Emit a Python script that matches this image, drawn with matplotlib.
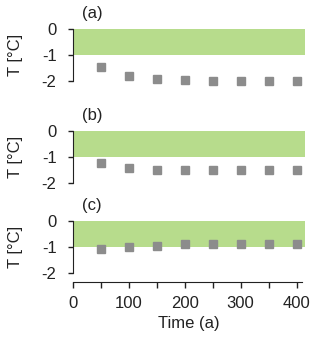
import numpy as np
import matplotlib
matplotlib.use('Agg')
from matplotlib import pyplot as plt

plt.rcParams['font.family'] = ['Liberation Sans', 'DejaVu Sans']

# time steps (years) and temperature anomaly per panel
time = [50, 100, 150, 200, 250, 300, 350, 400]
temp_a = [-1.45, -1.8, -1.93, -1.96, -2.0, -2.0, -2.0, -2.0]
temp_b = [-1.25, -1.45, -1.5, -1.53, -1.53, -1.53, -1.53, -1.53]
temp_c = [-1.07, -1.0, -0.98, -0.9, -0.9, -0.9, -0.9, -0.9]
panels = ['(a)', '(b)', '(c)']
band = (-1, 0)  # green range

green = '#b7dc8c'
grey = '#8c8c8c'
ink = '#222222'

fig = plt.figure(figsize=(3.2, 3.48), dpi=100)
tops = [29, 130.7, 220.7]
H = 348.0
axes = []
for i, (lab, vals) in enumerate(zip(panels, [temp_a, temp_b, temp_c])):
    top = 1 - tops[i] / H
    ax = fig.add_axes([0.228, top - 52 / H, 0.725, 52 / H])
    ax.set_xlim(0, 415)
    ax.set_ylim(-2, 0)
    ax.axhspan(band[0], band[1], xmin=0, xmax=1, color=green, lw=0)
    ax.plot(time, vals, 's', color=grey, ms=5.8, clip_on=False, zorder=3)
    for s in ['top', 'right']:
        ax.spines[s].set_visible(False)
    ax.spines['left'].set_color(ink)
    ax.set_yticks([0, -1, -2])
    ax.set_yticklabels(['0', '-1', '-2'])
    ax.tick_params(axis='y', direction='out', length=3.8, width=1, pad=8, labelsize=12, colors=ink)
    ax.set_ylabel('T [°C]', fontsize=12, color=ink)
    ax.yaxis.set_label_coords(-0.215, 0.5)
    ax.text(16, 0.3, lab, fontsize=12, ha='left', va='bottom', color=ink)
    if i < 2:
        ax.spines['bottom'].set_visible(False)
        ax.set_xticks([])
    else:
        ax.spines['bottom'].set_position(('outward', 6.5))
        ax.spines['bottom'].set_bounds(0, 410)
        ax.spines['bottom'].set_color(ink)
        ax.set_xticks(np.arange(0, 401, 50))
        ax.set_xticklabels(['0', '', '100', '', '200', '', '300', '', '400'])
        ax.tick_params(axis='x', direction='out', length=4, width=1, pad=6, labelsize=12, colors=ink)
        ax.set_xlabel('Time (a)', fontsize=12, color=ink, labelpad=4)
    axes.append(ax)

fig.savefig('out.png', dpi=100)
